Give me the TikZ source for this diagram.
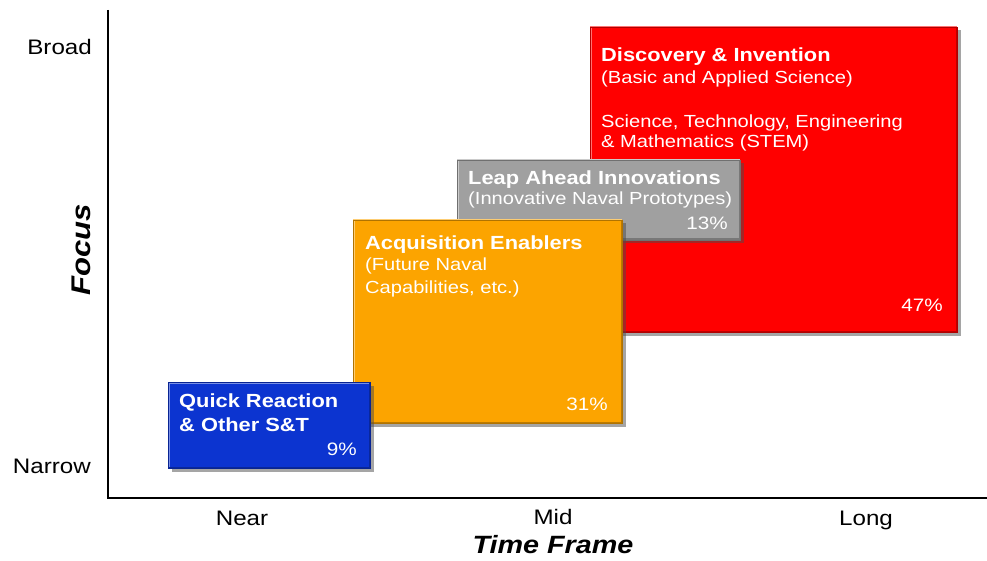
\documentclass[tikz,border=0pt]{standalone}
\usepackage{fontspec}
\setmainfont{Liberation Sans}[FakeStretch=1.15]
\usetikzlibrary{shadows}
\definecolor{qblue}{RGB}{12,52,208}
\definecolor{aorange}{RGB}{252,164,0}
\definecolor{lgray}{RGB}{160,160,160}
\definecolor{dred}{RGB}{255,0,0}
\begin{document}
\begin{tikzpicture}[x=1pt,y=-1pt,
  box/.style={draw=#1!70!black, line width=0.8pt, fill=#1, anchor=north west, inner sep=0pt, outer sep=0pt,
    drop shadow={shadow xshift=3.5pt, shadow yshift=-3.5pt, opacity=0.5, fill=black!70},
    path picture={
      \draw[#1!55!white, line width=3pt]
        (path picture bounding box.south west) -- (path picture bounding box.north west)
        -- (path picture bounding box.north east);
      \draw[#1!75!black, line width=3pt]
        (path picture bounding box.north east) -- (path picture bounding box.south east)
        -- (path picture bounding box.south west);}},
  ttl/.style={text=white, font=\fontsize{19}{22}\selectfont\bfseries, anchor=base west, inner sep=0pt},
  sub/.style={text=white, font=\fontsize{17.5}{20}\selectfont, anchor=base west, inner sep=0pt},
  pct/.style={text=white, font=\fontsize{18}{20}\selectfont, anchor=base east, inner sep=0pt},
  axl/.style={font=\fontsize{21}{24}\selectfont, inner sep=0pt},
  axt/.style={font=\fontsize{25}{28}\selectfont\bfseries\itshape, inner sep=0pt},
  axis/.style={line width=2.6pt, line join=miter, black}]
\useasboundingbox (0,0) rectangle (987,561);

% axes
\coordinate (ytop) at (108,10);
\coordinate (orig) at (108,498);
\coordinate (xend) at (987,498);
\draw[axis] (ytop) -- (orig) -- (xend);

% axis labels
\node[axl, anchor=base east] (broad) at (92,55) {Broad};
\node[axl, anchor=base east] (narrow) at (91,473) {Narrow};
\node[axl, anchor=base] (near) at (242,525) {Near};
\node[axl, anchor=base] (mid) at (553,524) {Mid};
\node[axl, anchor=base] (long) at (866,525) {Long};
\node[axt, anchor=base] (tf) at (553,553) {Time Frame};
\node[axt, font=\fontsize{27}{30}\selectfont\bfseries\itshape, rotate=90] (focus) at (81,250) {Focus};

% red box
\node[box=dred, minimum width=367pt, minimum height=305pt] (red) at (590,27) {};
\node[ttl] (redt) at (601,61.7) {Discovery \& Invention};
\node[sub] (reds1) at (601,83.3) {(Basic and Applied Science)};
\node[sub] (reds2) at (601,128) {Science, Technology, Engineering};
\node[sub] (reds3) at (601,148) {\& Mathematics (STEM)};
\node[pct] (redp) at (943,311.7) {47\%};

% gray box
\node[box=lgray, minimum width=283pt, minimum height=80pt] (gray) at (457,160) {};
\node[ttl] (grayt) at (468,185) {Leap Ahead Innovations};
\node[sub] (grays) at (468,205) {(Innovative Naval Prototypes)};
\node[pct] (grayp) at (728,230) {13\%};

% orange box
\node[box=aorange, minimum width=269pt, minimum height=203pt] (orange) at (353,220) {};
\node[ttl] (oranget) at (365,250) {Acquisition Enablers};
\node[sub] (oranges1) at (365,270) {(Future Naval};
\node[sub] (oranges2) at (365,293) {Capabilities, etc.)};
\node[pct] (orangep) at (608,410) {31\%};

% blue box
\node[box=qblue, minimum width=202pt, minimum height=86pt] (blue) at (168,382) {};
\node[ttl] (bluet1) at (179,407) {Quick Reaction};
\node[ttl] (bluet2) at (179,431) {\& Other S\&T};
\node[pct] (bluep) at (357,455) {9\%};
\end{tikzpicture}
\end{document}
